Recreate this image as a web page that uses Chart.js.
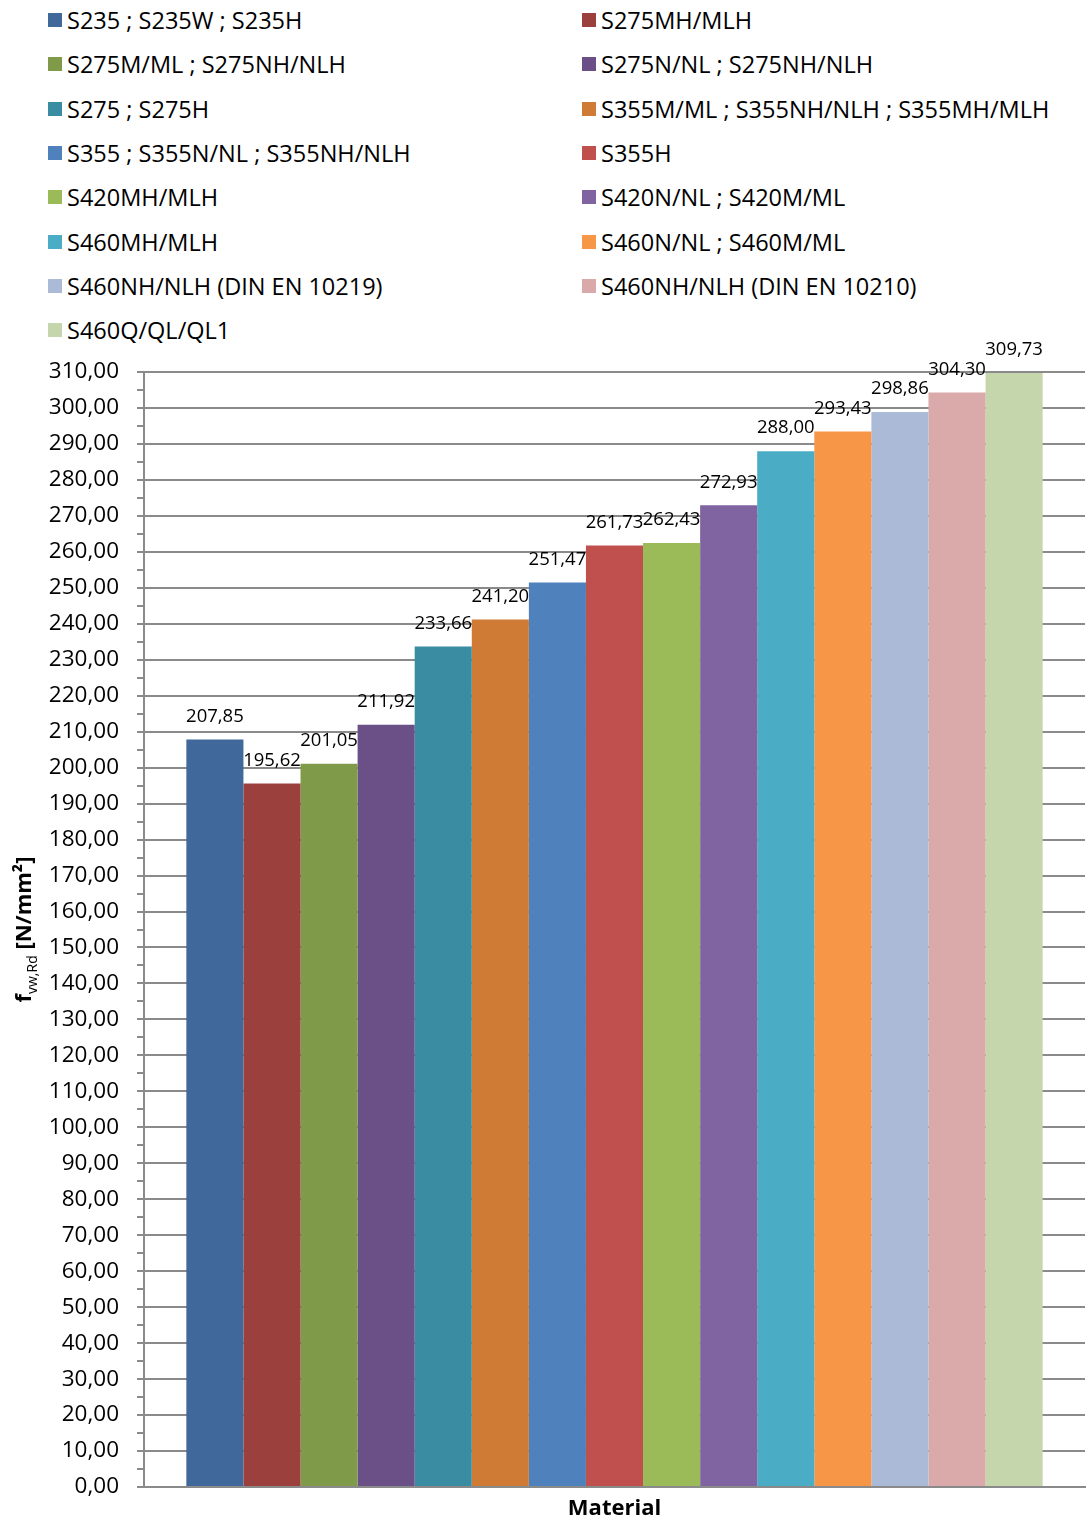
<!DOCTYPE html>
<html>
<head>
<meta charset="utf-8">
<script src="https://cdn.jsdelivr.net/npm/chart.js@4.4.1/dist/chart.umd.min.js"></script>
<style>
  body { margin: 0; background: #fff; font-family: "Open Sans", sans-serif; }
  #wrap { position: relative; width: 1087px; height: 1522px; overflow: hidden; }
  #legend { position: absolute; left: 0; top: 0; width: 1087px; height: 345px; }
  .item { position: absolute; height: 30px; line-height: 30px; font-size: 23.5px; color: #000; white-space: nowrap; }
  .item .box { position: absolute; left: 0; top: 8px; width: 14px; height: 14px; }
  .item .txt { position: absolute; left: 19px; top: 0; }
  #chart-box { position: absolute; left: 0; top: 340px; width: 1087px; height: 1182px; }
</style>
</head>
<body>
<div id="wrap">
  <div id="legend"></div>
  <div id="chart-box"><canvas id="fvw-chart"></canvas></div>
</div>
<script>
// steel grades and design weld strength f_vw,Rd in N/mm²
const materials = [
    'S235 ; S235W ; S235H',
    'S275MH/MLH',
    'S275M/ML ; S275NH/NLH',
    'S275N/NL ; S275NH/NLH',
    'S275 ; S275H',
    'S355M/ML ; S355NH/NLH ; S355MH/MLH',
    'S355 ; S355N/NL ; S355NH/NLH',
    'S355H',
    'S420MH/MLH',
    'S420N/NL ; S420M/ML',
    'S460MH/MLH',
    'S460N/NL ; S460M/ML',
    'S460NH/NLH (DIN EN 10219)',
    'S460NH/NLH (DIN EN 10210)',
    'S460Q/QL/QL1'
];
const fvwRd = [207.85, 195.62, 201.05, 211.92, 233.66, 241.20, 251.47, 261.73,
               262.43, 272.93, 288.00, 293.43, 298.86, 304.30, 309.73];
const barColors = [
    '#41689b', '#9c403e', '#7f9a48', '#6a5086', '#3a8ca2', '#cf7b36',
    '#4f81bd', '#c0504d', '#9bbb59', '#8064a2', '#4bacc6', '#f79646',
    '#aabad7', '#d9aaa9', '#c6d6ac'
];
const yMin = 0;
const yMax = 310;
const yStep = 5;        // minor tick every 5, label every 10
const yLabelEvery = 10;

const gridGray = '#8a8a8a';
const fontFamily = '"Open Sans", sans-serif';

function formatNum(v) {
    return v.toFixed(2).replace('.', ',');
}

// value above each bar
const valueLabels = {
    id: 'valueLabels',
    afterDatasetsDraw(chart) {
        const ctx = chart.ctx;
        ctx.save();
        ctx.font = '18.5px ' + fontFamily;
        ctx.fillStyle = '#000';
        ctx.textAlign = 'center';
        ctx.textBaseline = 'middle';
        chart.data.datasets.forEach(function (ds, i) {
            const bar = chart.getDatasetMeta(i).data[0];
            ctx.fillText(formatNum(ds.data[0]), bar.x, bar.y - 23);
        });
        ctx.restore();
    }
};

// rotated y title with subscript
const yTitle = {
    id: 'yTitle',
    afterDraw(chart) {
        const ctx = chart.ctx;
        const area = chart.chartArea;
        const parts = [
            { t: 'f', font: 'bold 22px ' + fontFamily, dy: 0 },
            { t: 'vw,Rd', font: '14px ' + fontFamily, dy: 6 },
            { t: ' [N/mm²]', font: 'bold 22px ' + fontFamily, dy: 0 }
        ];
        ctx.save();
        ctx.translate(31, (area.top + area.bottom) / 2);
        ctx.rotate(-Math.PI / 2);
        let total = 0;
        parts.forEach(function (p) {
            ctx.font = p.font;
            p.w = ctx.measureText(p.t).width;
            total += p.w;
        });
        let x = -total / 2;
        ctx.fillStyle = '#000';
        ctx.textBaseline = 'alphabetic';
        parts.forEach(function (p) {
            ctx.font = p.font;
            ctx.fillText(p.t, x, p.dy);
            x += p.w;
        });
        ctx.restore();
    }
};

function buildLegend(chart) {
    const box = document.getElementById('legend');
    const rowGap = 44.3;
    chart.data.datasets.forEach(function (ds, i) {
        const col = i % 2;
        const row = Math.floor(i / 2);
        const item = document.createElement('div');
        item.className = 'item';
        item.style.left = (col ? 582 : 48) + 'px';
        item.style.top = (20 + row * rowGap - 15) + 'px';
        const sw = document.createElement('span');
        sw.className = 'box';
        sw.style.background = ds.backgroundColor;
        const txt = document.createElement('span');
        txt.className = 'txt';
        txt.textContent = ds.label;
        item.appendChild(sw);
        item.appendChild(txt);
        box.appendChild(item);
    });
}

const datasets = materials.map(function (name, i) {
    return {
        label: name,
        data: [fvwRd[i]],
        backgroundColor: barColors[i],
        borderWidth: 0,
        categoryPercentage: 0.91,
        barPercentage: 1.0
    };
});

const ctx = document.getElementById('fvw-chart').getContext('2d');
const fvwChart = new Chart(ctx, {
    type: 'bar',
    data: { labels: [''], datasets: datasets },
    options: {
        responsive: true,
        maintainAspectRatio: false,
        animation: false,
        layout: { padding: { top: 32, right: 2, left: 0, bottom: 0 } },
        plugins: {
            legend: { display: false },
            tooltip: { enabled: false }
        },
        scales: {
            x: {
                grid: { display: false },
                border: { color: gridGray, width: 2 },
                ticks: { display: false },
                title: {
                    display: true,
                    text: 'Material',
                    color: '#000',
                    font: { family: fontFamily, size: 22, weight: 'bold' },
                    padding: { top: 0, bottom: 0 }
                },
                afterFit: function (scale) { scale.height = 35; }
            },
            y: {
                min: yMin,
                max: yMax,
                border: { color: gridGray, width: 2 },
                grid: {
                    color: function (c) {
                        return (c.tick && c.tick.value % yLabelEvery === 0) ? gridGray : 'rgba(0,0,0,0)';
                    },
                    lineWidth: 2,
                    tickColor: gridGray,
                    tickLength: 7
                },
                ticks: {
                    stepSize: yStep,
                    autoSkip: false,
                    padding: 18,
                    color: '#000',
                    font: { family: fontFamily, size: 22.5 },
                    callback: function (v) {
                        return v % yLabelEvery === 0 ? formatNum(v) : '';
                    }
                },
                afterFit: function (scale) { scale.width = 144; }
            }
        }
    },
    plugins: [valueLabels, yTitle]
});

buildLegend(fvwChart);
</script>
</body>
</html>
